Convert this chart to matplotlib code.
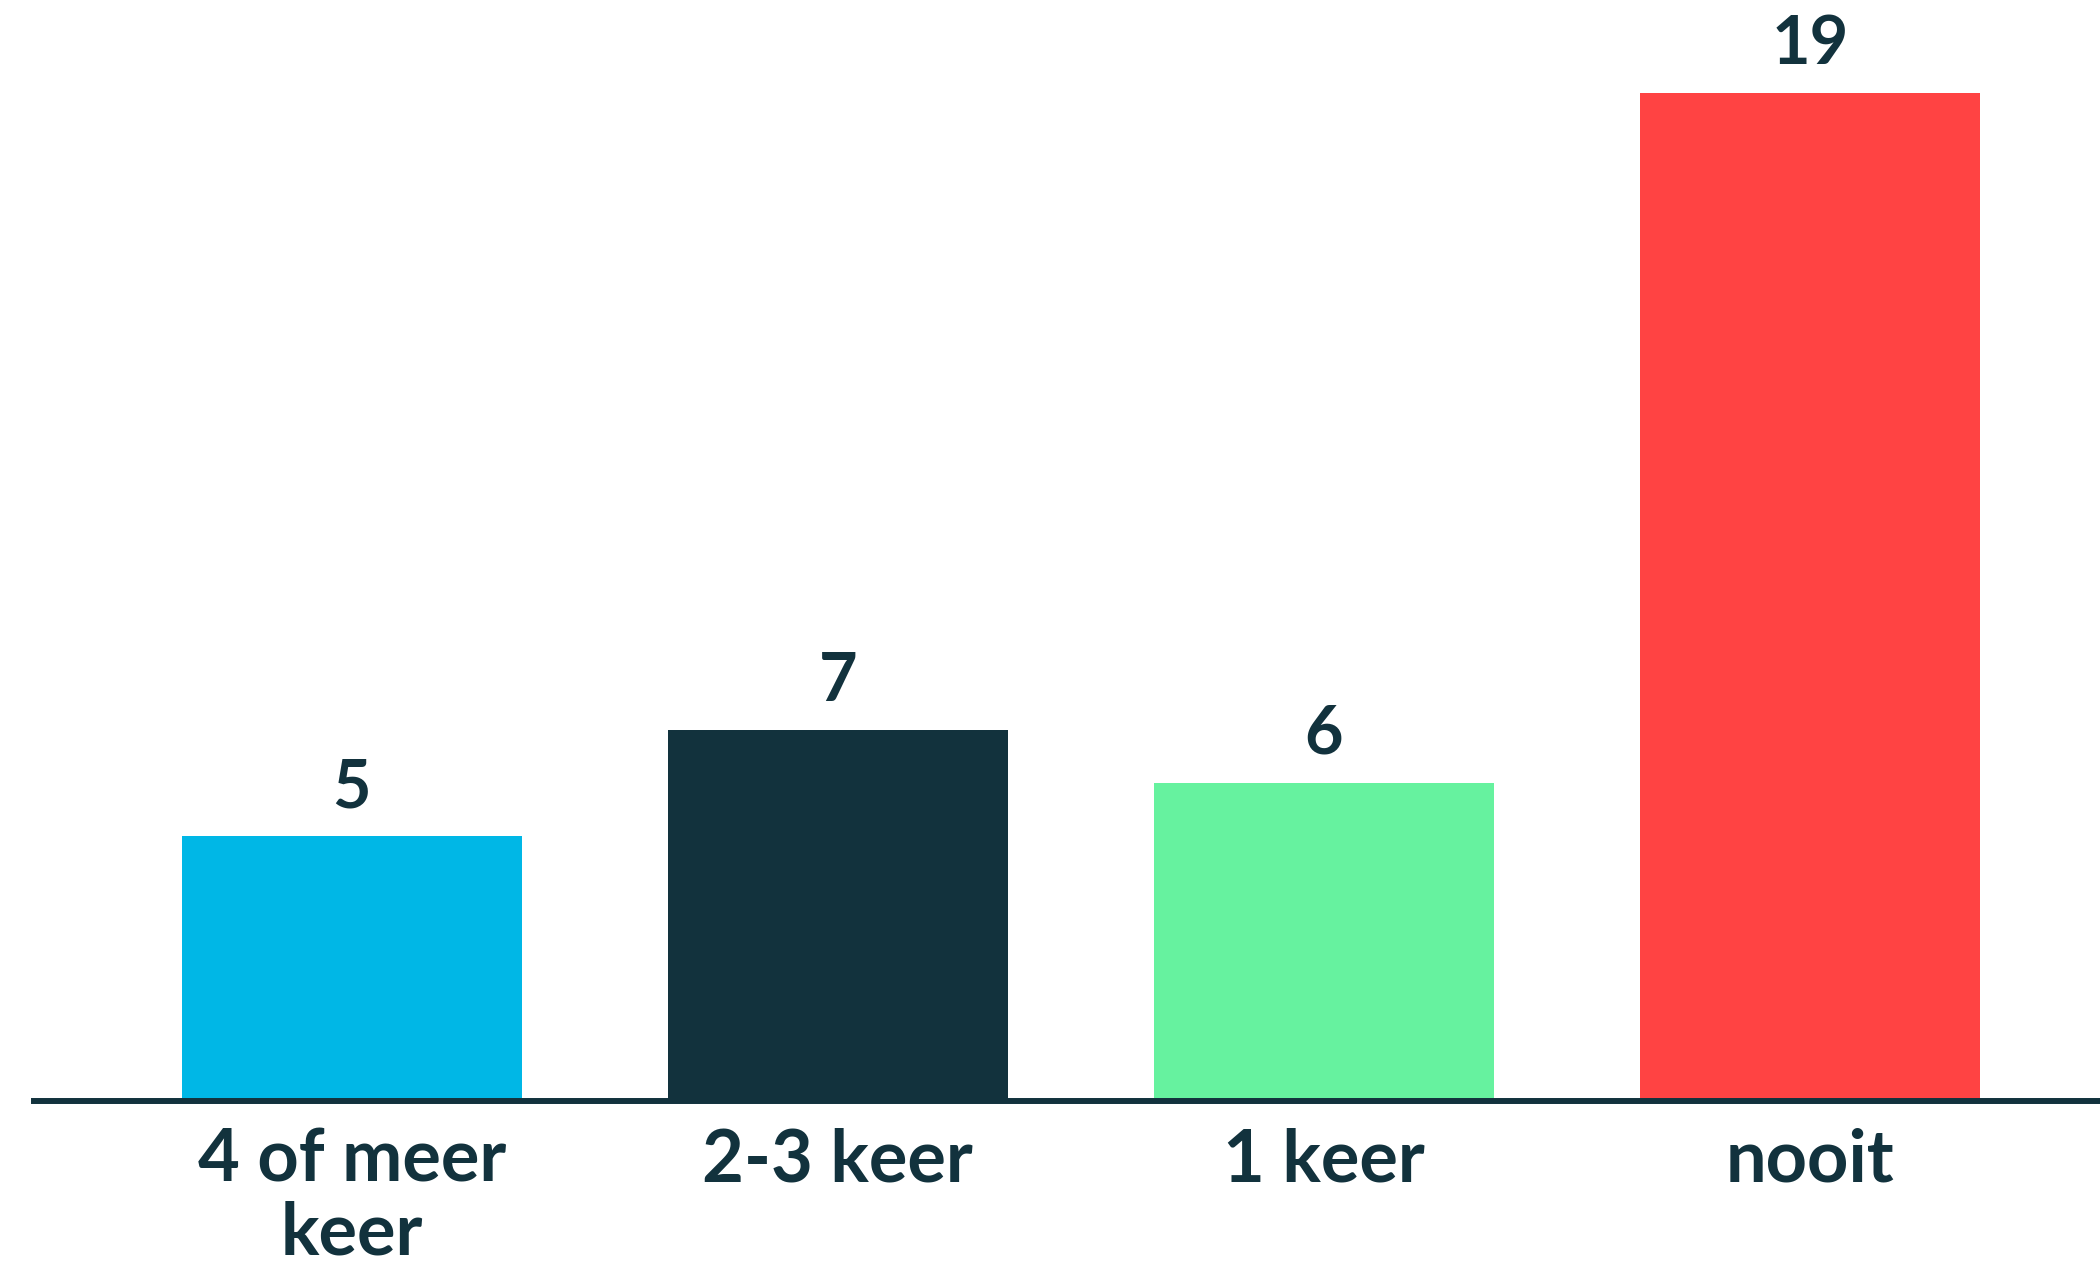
import matplotlib
matplotlib.use("Agg")
from matplotlib import pyplot as plt

# Data
categories = ["4 of meer\nkeer", "2-3 keer", "1 keer", "nooit"]
values = [5, 7, 6, 19]
colors = ["#00B7E6", "#12323D", "#66F29F", "#FF4343"]

text_color = "#12323D"
plt.rcParams['font.family'] = ['Lato', 'DejaVu Sans']

fig = plt.figure(figsize=(21, 12.74), dpi=100)
ax = fig.add_axes([34 / 2100, 173 / 1274, 1 - 34 / 2100, 1101 / 1274])

x = list(range(len(categories)))
bars = ax.bar(x, values, width=0.70, color=colors, zorder=2)

# Value labels above the bars
for rect, v in zip(bars, values):
    ax.annotate(str(v), (rect.get_x() + rect.get_width() / 2, rect.get_height()),
                xytext=(0, 12), textcoords="offset points",
                ha="center", va="bottom", fontsize=48, fontweight="bold",
                color=text_color)

ax.set_xlim(-0.654, 3.597)
ax.set_ylim(0, 20.75)

ax.set_xticks(x)
ax.set_xticklabels(categories, fontsize=52, fontweight="bold", color=text_color,
                   linespacing=1.12)
ax.tick_params(axis='x', length=0, pad=19)
ax.set_yticks([])

for side in ["top", "left", "right"]:
    ax.spines[side].set_visible(False)
ax.spines["bottom"].set_color(text_color)
ax.spines["bottom"].set_linewidth(4.3)
ax.spines["bottom"].set_zorder(3)

fig.savefig("out.png", dpi=100, facecolor="white")
